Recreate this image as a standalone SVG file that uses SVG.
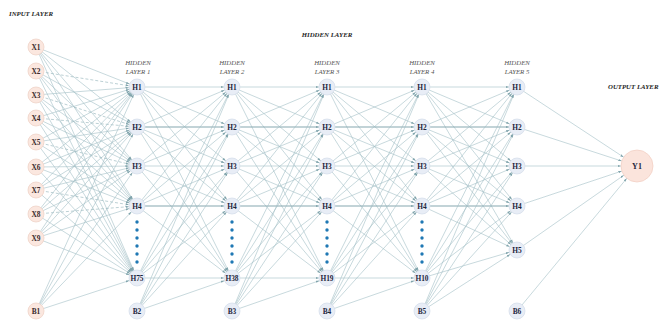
<svg xmlns="http://www.w3.org/2000/svg" xmlns:xlink="http://www.w3.org/1999/xlink" width="667" height="321" viewBox="0 0 667 321">
  <style>
    .c line { stroke: #a3c0c6; stroke-width: 0.6; fill: none; marker-end: url(#ah); }
    .c line.dash { stroke-dasharray: 3 2; stroke: #8fb0b7; }
    .c line.row { stroke: #86a8b0; stroke-width: 1.1; }
    .c line.out { marker-end: url(#ahY); }
    .in circle { fill: #fbe7df; stroke: #efd3c8; stroke-width: 0.8; }
    .hid circle { fill: #e8edf6; stroke: #d6deeb; stroke-width: 0.8; }
    .out circle { fill: #fbe4dc; stroke: #f2d0c5; stroke-width: 0.8; }
    .lbl { font-family: "Liberation Serif", "DejaVu Serif", serif; font-weight: bold; font-size: 7.4px; text-anchor: middle; fill: #1f2740; }
    .in .lbl { fill: #3a2b2b; }
    .ttl { font-family: "Liberation Serif", "DejaVu Serif", serif; font-style: italic; font-size: 6.8px; text-anchor: middle; fill: #555; }
    .head { font-family: "Liberation Serif", "DejaVu Serif", serif; font-style: italic; font-weight: bold; font-size: 6.8px; fill: #1e1e1e; }
    .dots circle { fill: #1f78b4; }
  </style>
  <defs>
    <!-- arrowhead that stops at the rim of a small node (r = 8) -->
    <marker id="ah" markerUnits="userSpaceOnUse" viewBox="0 0 12 4" markerWidth="12" markerHeight="4" refX="11.5" refY="2" orient="auto">
      <path d="M0,0.9 L3.5,2 L0,3.1 z" fill="#7fa3ab"/>
    </marker>
    <!-- arrowhead for the large output node (r = 16) -->
    <marker id="ahY" markerUnits="userSpaceOnUse" viewBox="0 0 20 4" markerWidth="20" markerHeight="4" refX="19.5" refY="2" orient="auto">
      <path d="M0,0.9 L3.5,2 L0,3.1 z" fill="#7fa3ab"/>
    </marker>
    <!-- fully connected block between two hidden layers, source at x=0, target at x=95 -->
    <g id="hh" class="c" stroke="#a3c0c6" stroke-width="0.6" fill="none" marker-end="url(#ah)">
      <line x1="0" y1="87" x2="95" y2="87"/><line x1="0" y1="87" x2="95" y2="127"/><line x1="0" y1="87" x2="95" y2="166"/><line x1="0" y1="87" x2="95" y2="206"/><line x1="0" y1="87" x2="95" y2="278"/>
      <line x1="0" y1="127" x2="95" y2="87"/><line x1="0" y1="127" x2="95" y2="127" class="row"/><line x1="0" y1="127" x2="95" y2="166"/><line x1="0" y1="127" x2="95" y2="206"/><line x1="0" y1="127" x2="95" y2="278"/>
      <line x1="0" y1="166" x2="95" y2="87"/><line x1="0" y1="166" x2="95" y2="127"/><line x1="0" y1="166" x2="95" y2="166"/><line x1="0" y1="166" x2="95" y2="206"/><line x1="0" y1="166" x2="95" y2="278"/>
      <line x1="0" y1="206" x2="95" y2="87"/><line x1="0" y1="206" x2="95" y2="127"/><line x1="0" y1="206" x2="95" y2="166"/><line x1="0" y1="206" x2="95" y2="206" class="row"/><line x1="0" y1="206" x2="95" y2="278"/>
      <line x1="0" y1="278" x2="95" y2="87"/><line x1="0" y1="278" x2="95" y2="127"/><line x1="0" y1="278" x2="95" y2="166"/><line x1="0" y1="278" x2="95" y2="206"/><line x1="0" y1="278" x2="95" y2="278"/>
      <line x1="0" y1="311" x2="95" y2="87"/><line x1="0" y1="311" x2="95" y2="127"/><line x1="0" y1="311" x2="95" y2="166"/><line x1="0" y1="311" x2="95" y2="206"/><line x1="0" y1="311" x2="95" y2="278"/>
    </g>
    <!-- column of ellipsis dots between H4 and the last hidden unit -->
    <g id="dotcol" class="dots" fill="#1f78b4">
      <circle cx="0" cy="222" r="1.7"/><circle cx="0" cy="230" r="1.7"/><circle cx="0" cy="238" r="1.7"/>
      <circle cx="0" cy="246" r="1.7"/><circle cx="0" cy="254" r="1.7"/><circle cx="0" cy="262" r="1.7"/>
    </g>
  </defs>

  <rect width="667" height="321" fill="#ffffff"/>

  <!-- headings -->
  <text class="head" x="9" y="16">INPUT LAYER</text>
  <text class="head" x="327" y="37" text-anchor="middle">HIDDEN LAYER</text>
  <text class="head" x="608" y="89">OUTPUT LAYER</text>

  <g id="layer-titles">
    <text class="ttl" x="138" y="65">HIDDEN</text><text class="ttl" x="138" y="74">LAYER 1</text>
    <text class="ttl" x="232" y="65">HIDDEN</text><text class="ttl" x="232" y="74">LAYER 2</text>
    <text class="ttl" x="327" y="65">HIDDEN</text><text class="ttl" x="327" y="74">LAYER 3</text>
    <text class="ttl" x="422" y="65">HIDDEN</text><text class="ttl" x="422" y="74">LAYER 4</text>
    <text class="ttl" x="517" y="65">HIDDEN</text><text class="ttl" x="517" y="74">LAYER 5</text>
  </g>

  <!-- connectors -->
  <g id="connectors" class="c">
    <!-- input layer to hidden layer 1 -->
    <line x1="36" y1="47" x2="137" y2="87"/><line x1="36" y1="47" x2="137" y2="127"/><line x1="36" y1="47" x2="137" y2="166"/><line x1="36" y1="47" x2="137" y2="206"/><line x1="36" y1="47" x2="137" y2="278"/>
    <line x1="36" y1="71" x2="137" y2="87" class="dash"/><line x1="36" y1="71" x2="137" y2="127"/><line x1="36" y1="71" x2="137" y2="166"/><line x1="36" y1="71" x2="137" y2="206"/><line x1="36" y1="71" x2="137" y2="278"/>
    <line x1="36" y1="95" x2="137" y2="87"/><line x1="36" y1="95" x2="137" y2="127" class="dash"/><line x1="36" y1="95" x2="137" y2="166"/><line x1="36" y1="95" x2="137" y2="206"/><line x1="36" y1="95" x2="137" y2="278"/>
    <line x1="36" y1="118" x2="137" y2="87"/><line x1="36" y1="118" x2="137" y2="127" class="dash"/><line x1="36" y1="118" x2="137" y2="166"/><line x1="36" y1="118" x2="137" y2="206"/><line x1="36" y1="118" x2="137" y2="278"/>
    <line x1="36" y1="142" x2="137" y2="87"/><line x1="36" y1="142" x2="137" y2="127"/><line x1="36" y1="142" x2="137" y2="166" class="dash"/><line x1="36" y1="142" x2="137" y2="206"/><line x1="36" y1="142" x2="137" y2="278"/>
    <line x1="36" y1="167" x2="137" y2="87"/><line x1="36" y1="167" x2="137" y2="127"/><line x1="36" y1="167" x2="137" y2="166"/><line x1="36" y1="167" x2="137" y2="206"/><line x1="36" y1="167" x2="137" y2="278"/>
    <line x1="36" y1="190" x2="137" y2="87"/><line x1="36" y1="190" x2="137" y2="127"/><line x1="36" y1="190" x2="137" y2="166"/><line x1="36" y1="190" x2="137" y2="206" class="dash"/><line x1="36" y1="190" x2="137" y2="278"/>
    <line x1="36" y1="214" x2="137" y2="87"/><line x1="36" y1="214" x2="137" y2="127"/><line x1="36" y1="214" x2="137" y2="166"/><line x1="36" y1="214" x2="137" y2="206" class="dash"/><line x1="36" y1="214" x2="137" y2="278"/>
    <line x1="36" y1="238" x2="137" y2="87"/><line x1="36" y1="238" x2="137" y2="127"/><line x1="36" y1="238" x2="137" y2="166"/><line x1="36" y1="238" x2="137" y2="206"/><line x1="36" y1="238" x2="137" y2="278"/>
    <line x1="36" y1="311" x2="137" y2="87"/><line x1="36" y1="311" x2="137" y2="127"/><line x1="36" y1="311" x2="137" y2="166"/><line x1="36" y1="311" x2="137" y2="206"/><line x1="36" y1="311" x2="137" y2="278"/>
    <!-- hidden layers 1 to 4 -->
    <use xlink:href="#hh" x="137"/>
    <use xlink:href="#hh" x="232"/>
    <use xlink:href="#hh" x="327"/>
    <!-- hidden layer 4 to hidden layer 5 -->
    <line x1="422" y1="87" x2="517" y2="87"/><line x1="422" y1="87" x2="517" y2="127"/><line x1="422" y1="87" x2="517" y2="166"/><line x1="422" y1="87" x2="517" y2="206"/><line x1="422" y1="87" x2="517" y2="250"/>
    <line x1="422" y1="127" x2="517" y2="87"/><line x1="422" y1="127" x2="517" y2="127" class="row"/><line x1="422" y1="127" x2="517" y2="166"/><line x1="422" y1="127" x2="517" y2="206"/><line x1="422" y1="127" x2="517" y2="250"/>
    <line x1="422" y1="166" x2="517" y2="87"/><line x1="422" y1="166" x2="517" y2="127"/><line x1="422" y1="166" x2="517" y2="166"/><line x1="422" y1="166" x2="517" y2="206"/><line x1="422" y1="166" x2="517" y2="250"/>
    <line x1="422" y1="206" x2="517" y2="87"/><line x1="422" y1="206" x2="517" y2="127"/><line x1="422" y1="206" x2="517" y2="166"/><line x1="422" y1="206" x2="517" y2="206" class="row"/><line x1="422" y1="206" x2="517" y2="250"/>
    <line x1="422" y1="278" x2="517" y2="87"/><line x1="422" y1="278" x2="517" y2="127"/><line x1="422" y1="278" x2="517" y2="166"/><line x1="422" y1="278" x2="517" y2="206"/><line x1="422" y1="278" x2="517" y2="250"/>
    <line x1="422" y1="311" x2="517" y2="87"/><line x1="422" y1="311" x2="517" y2="127"/><line x1="422" y1="311" x2="517" y2="166"/><line x1="422" y1="311" x2="517" y2="206"/><line x1="422" y1="311" x2="517" y2="250"/>
    <!-- hidden layer 5 to output -->
    <line x1="517" y1="87" x2="637" y2="166" class="out"/>
    <line x1="517" y1="127" x2="637" y2="166" class="out"/>
    <line x1="517" y1="166" x2="637" y2="166" class="out"/>
    <line x1="517" y1="206" x2="637" y2="166" class="out"/>
    <line x1="517" y1="250" x2="637" y2="166" class="out"/>
    <line x1="517" y1="311" x2="637" y2="166" class="out"/>
  </g>

  <!-- ellipsis dots in hidden layers 1 to 4 -->
  <g class="dots">
    <use xlink:href="#dotcol" x="137"/>
    <use xlink:href="#dotcol" x="232"/>
    <use xlink:href="#dotcol" x="327"/>
    <use xlink:href="#dotcol" x="422"/>
  </g>

  <!-- input layer -->
  <g class="in">
    <g id="X1"><circle cx="36" cy="47" r="8"/><text class="lbl" x="36" y="49.6">X1</text></g>
    <g id="X2"><circle cx="36" cy="71" r="8"/><text class="lbl" x="36" y="73.6">X2</text></g>
    <g id="X3"><circle cx="36" cy="95" r="8"/><text class="lbl" x="36" y="97.6">X3</text></g>
    <g id="X4"><circle cx="36" cy="118" r="8"/><text class="lbl" x="36" y="120.6">X4</text></g>
    <g id="X5"><circle cx="36" cy="142" r="8"/><text class="lbl" x="36" y="144.6">X5</text></g>
    <g id="X6"><circle cx="36" cy="167" r="8"/><text class="lbl" x="36" y="169.6">X6</text></g>
    <g id="X7"><circle cx="36" cy="190" r="8"/><text class="lbl" x="36" y="192.6">X7</text></g>
    <g id="X8"><circle cx="36" cy="214" r="8"/><text class="lbl" x="36" y="216.6">X8</text></g>
    <g id="X9"><circle cx="36" cy="238" r="8"/><text class="lbl" x="36" y="240.6">X9</text></g>
    <g id="B1"><circle cx="36" cy="311" r="8"/><text class="lbl" x="36" y="313.6">B1</text></g>
  </g>

  <!-- hidden layer 1 -->
  <g class="hid">
    <g id="L1-H1"><circle cx="137" cy="87" r="8"/><text class="lbl" x="137" y="89.6">H1</text></g>
    <g id="L1-H2"><circle cx="137" cy="127" r="8"/><text class="lbl" x="137" y="129.6">H2</text></g>
    <g id="L1-H3"><circle cx="137" cy="166" r="8"/><text class="lbl" x="137" y="168.6">H3</text></g>
    <g id="L1-H4"><circle cx="137" cy="206" r="8"/><text class="lbl" x="137" y="208.6">H4</text></g>
    <g id="L1-H75"><circle cx="137" cy="278" r="8"/><text class="lbl" x="137" y="280.6">H75</text></g>
    <g id="B2"><circle cx="137" cy="311" r="8"/><text class="lbl" x="137" y="313.6">B2</text></g>
  </g>

  <!-- hidden layer 2 -->
  <g class="hid">
    <g id="L2-H1"><circle cx="232" cy="87" r="8"/><text class="lbl" x="232" y="89.6">H1</text></g>
    <g id="L2-H2"><circle cx="232" cy="127" r="8"/><text class="lbl" x="232" y="129.6">H2</text></g>
    <g id="L2-H3"><circle cx="232" cy="166" r="8"/><text class="lbl" x="232" y="168.6">H3</text></g>
    <g id="L2-H4"><circle cx="232" cy="206" r="8"/><text class="lbl" x="232" y="208.6">H4</text></g>
    <g id="L2-H38"><circle cx="232" cy="278" r="8"/><text class="lbl" x="232" y="280.6">H38</text></g>
    <g id="B3"><circle cx="232" cy="311" r="8"/><text class="lbl" x="232" y="313.6">B3</text></g>
  </g>

  <!-- hidden layer 3 -->
  <g class="hid">
    <g id="L3-H1"><circle cx="327" cy="87" r="8"/><text class="lbl" x="327" y="89.6">H1</text></g>
    <g id="L3-H2"><circle cx="327" cy="127" r="8"/><text class="lbl" x="327" y="129.6">H2</text></g>
    <g id="L3-H3"><circle cx="327" cy="166" r="8"/><text class="lbl" x="327" y="168.6">H3</text></g>
    <g id="L3-H4"><circle cx="327" cy="206" r="8"/><text class="lbl" x="327" y="208.6">H4</text></g>
    <g id="L3-H19"><circle cx="327" cy="278" r="8"/><text class="lbl" x="327" y="280.6">H19</text></g>
    <g id="B4"><circle cx="327" cy="311" r="8"/><text class="lbl" x="327" y="313.6">B4</text></g>
  </g>

  <!-- hidden layer 4 -->
  <g class="hid">
    <g id="L4-H1"><circle cx="422" cy="87" r="8"/><text class="lbl" x="422" y="89.6">H1</text></g>
    <g id="L4-H2"><circle cx="422" cy="127" r="8"/><text class="lbl" x="422" y="129.6">H2</text></g>
    <g id="L4-H3"><circle cx="422" cy="166" r="8"/><text class="lbl" x="422" y="168.6">H3</text></g>
    <g id="L4-H4"><circle cx="422" cy="206" r="8"/><text class="lbl" x="422" y="208.6">H4</text></g>
    <g id="L4-H10"><circle cx="422" cy="278" r="8"/><text class="lbl" x="422" y="280.6">H10</text></g>
    <g id="B5"><circle cx="422" cy="311" r="8"/><text class="lbl" x="422" y="313.6">B5</text></g>
  </g>

  <!-- hidden layer 5 -->
  <g class="hid">
    <g id="L5-H1"><circle cx="517" cy="87" r="8"/><text class="lbl" x="517" y="89.6">H1</text></g>
    <g id="L5-H2"><circle cx="517" cy="127" r="8"/><text class="lbl" x="517" y="129.6">H2</text></g>
    <g id="L5-H3"><circle cx="517" cy="166" r="8"/><text class="lbl" x="517" y="168.6">H3</text></g>
    <g id="L5-H4"><circle cx="517" cy="206" r="8"/><text class="lbl" x="517" y="208.6">H4</text></g>
    <g id="L5-H5"><circle cx="517" cy="250" r="8"/><text class="lbl" x="517" y="252.6">H5</text></g>
    <g id="B6"><circle cx="517" cy="311" r="8"/><text class="lbl" x="517" y="313.6">B6</text></g>
  </g>

  <!-- output layer -->
  <g class="out">
    <g id="Y1"><circle cx="637" cy="166" r="16"/><text class="lbl" x="637" y="169" style="font-size:8px">Y1</text></g>
  </g>
</svg>
